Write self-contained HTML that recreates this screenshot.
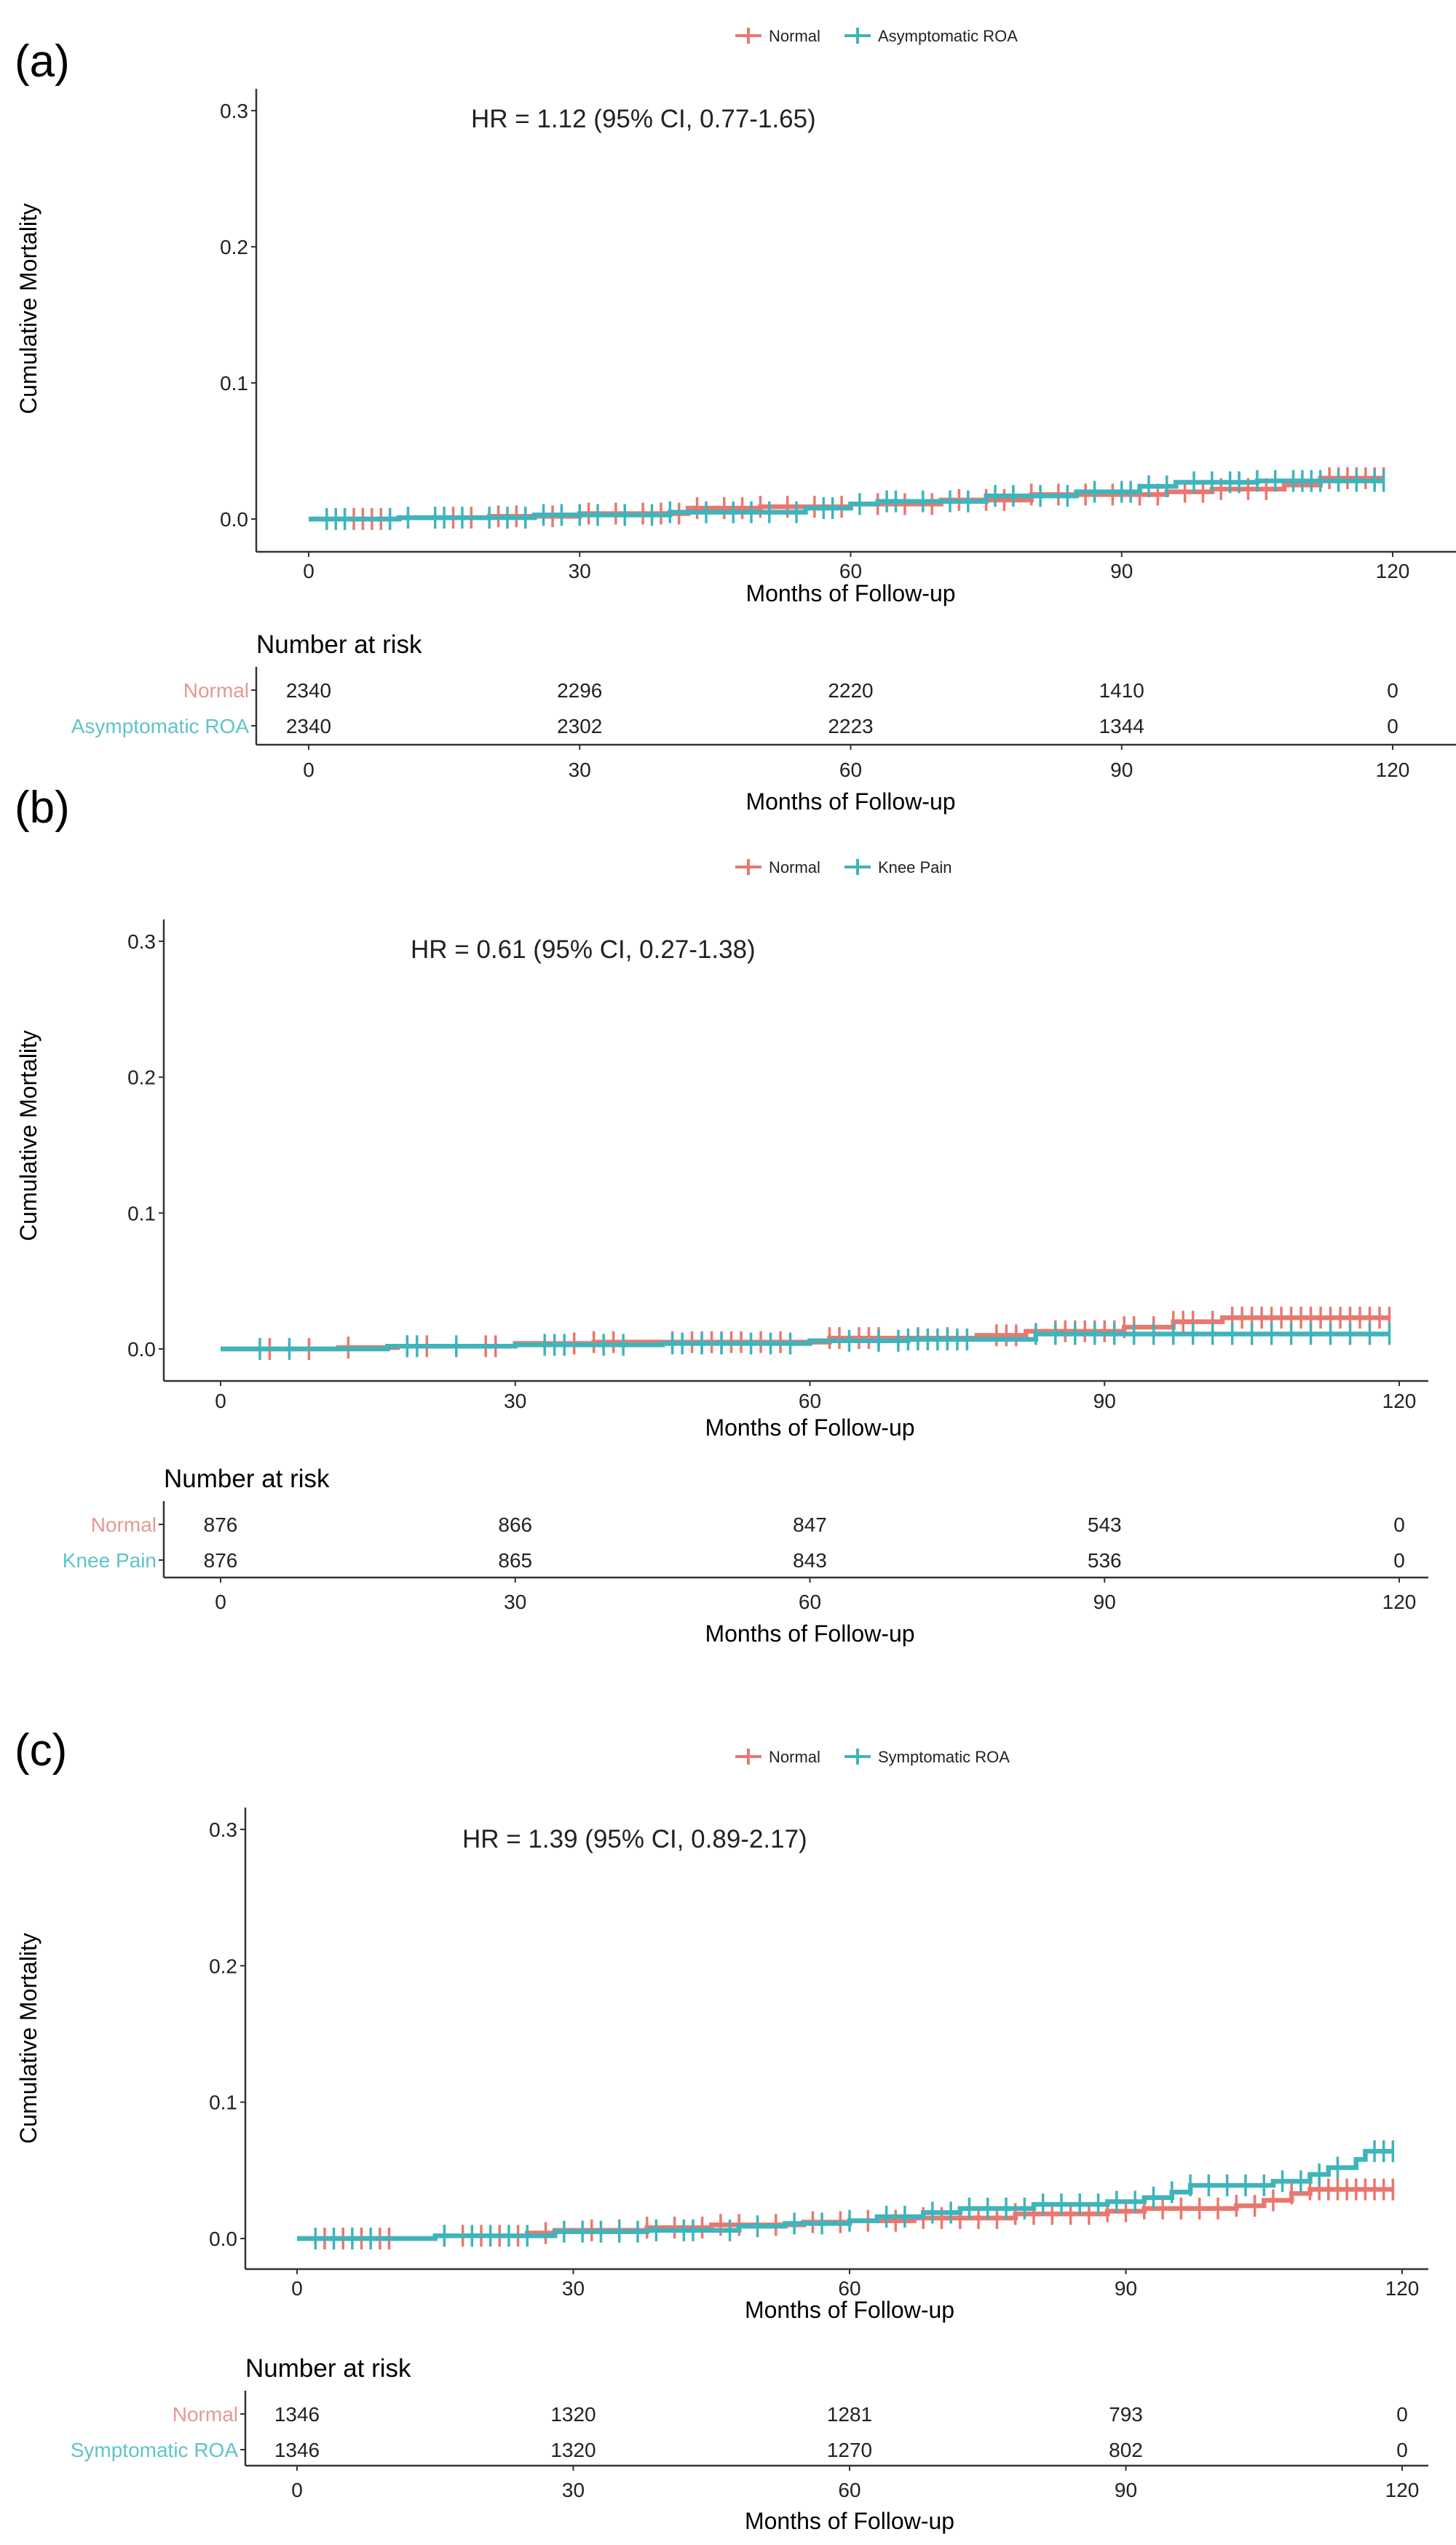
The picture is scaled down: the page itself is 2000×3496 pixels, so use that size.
<!DOCTYPE html>
<html><head><meta charset="utf-8">
<style>
html,body{margin:0;padding:0;background:#fff;}
svg{display:block;font-family:"Liberation Sans",Arial,sans-serif;}
</style></head>
<body>
<svg id="fig" width="2000" height="3496" viewBox="0 0 2000 3496" xmlns="http://www.w3.org/2000/svg"></svg>
<script>
// ---------- DATA ----------
const xTicks = [0, 30, 60, 90, 120];
const yTicks = [0.0, 0.1, 0.2, 0.3];
const yTickLabels = ["0.0", "0.1", "0.2", "0.3"];

const panelLabels = ["(a)", "(b)", "(c)"];
const hrTexts = ["HR = 1.12 (95% CI, 0.77-1.65)", "HR = 0.61 (95% CI, 0.27-1.38)", "HR = 1.39 (95% CI, 0.89-2.17)"];
const groupNames = [["Normal", "Asymptomatic ROA"], ["Normal", "Knee Pain"], ["Normal", "Symptomatic ROA"]];

// risk tables
const riskA_normal = [2340, 2296, 2220, 1410, 0];
const riskA_group = [2340, 2302, 2223, 1344, 0];
const riskB_normal = [876, 866, 847, 543, 0];
const riskB_group = [876, 865, 843, 536, 0];
const riskC_normal = [1346, 1320, 1281, 793, 0];
const riskC_group = [1346, 1320, 1270, 802, 0];

// step curves: times and cumulative values
const aNormT = [0, 10, 20, 30, 42, 50, 60, 70, 80, 95, 100, 108, 112, 119];
const aNormV = [0, 0.001, 0.002, 0.004, 0.008, 0.009, 0.011, 0.014, 0.018, 0.020, 0.022, 0.025, 0.030, 0.030];
const aGrpT = [0, 10, 25, 40, 55, 60, 63, 75, 85, 92, 96, 105, 119];
const aGrpV = [0, 0.001, 0.003, 0.005, 0.008, 0.011, 0.013, 0.017, 0.020, 0.024, 0.027, 0.028, 0.028];
const bNormT = [0, 12, 18, 30, 38, 62, 77, 82, 92, 97, 102, 119];
const bNormV = [0, 0.001, 0.002, 0.004, 0.005, 0.008, 0.010, 0.013, 0.016, 0.020, 0.023, 0.023];
const bGrpT = [0, 17, 30, 45, 60, 70, 83, 119];
const bGrpV = [0, 0.002, 0.003, 0.004, 0.006, 0.007, 0.011, 0.011];
const cNormT = [0, 15, 25, 28, 38, 45, 55, 60, 67, 78, 88, 92, 102, 105, 108, 110, 119];
const cNormV = [0, 0.002, 0.004, 0.006, 0.008, 0.010, 0.012, 0.013, 0.015, 0.018, 0.020, 0.022, 0.024, 0.028, 0.033, 0.036, 0.036];
const cGrpT = [0, 15, 28, 38, 48, 53, 60, 63, 68, 72, 80, 88, 92, 95, 97, 106, 110, 112, 115, 116, 119];
const cGrpV = [0, 0.002, 0.005, 0.006, 0.009, 0.011, 0.013, 0.016, 0.019, 0.022, 0.025, 0.027, 0.030, 0.034, 0.039, 0.042, 0.047, 0.052, 0.058, 0.064, 0.064];

// censoring times
const aNormC = [5,6,7,8,16,18,21,23,27,31,34,37,39,41,43,46,48,50,53,56,59,63,66,69,72,75,77,80,83,86,89,92,94,97,99,101,104,106,113,114,115,116,117,118,119];
const aGrpC = [2,3,4,9,11,14,15,17,20,22,24,26,28,30,32,35,38,40,44,47,49,51,54,57,58,61,64,65,68,71,73,76,78,81,84,87,90,91,93,95,98,100,102,103,105,107,109,110,111,112,114,116,118,119];
const bNormC = [5,9,13,19,21,27,28,36,38,40,46,48,49,50,51,52,53,55,57,62,63,65,66,67,71,74,79,80,81,85,86,87,88,89,90,91,92,93,95,97,98,99,101,103,104,105,106,107,108,109,110,111,112,113,114,115,116,117,118,119];
const bGrpC = [4,7,19,20,24,33,34,35,39,41,46,47,49,51,54,56,58,64,67,69,70,71,72,73,74,75,76,83,85,87,89,91,93,95,97,99,101,103,105,107,109,111,113,115,117,119];
const cNormC = [3,5,7,9,10,16,18,20,22,24,27,32,35,38,41,44,46,48,52,56,59,62,65,68,70,72,74,76,78,80,82,84,86,88,90,92,94,96,98,100,102,104,106,108,110,111,112,113,114,115,116,117,118,119];
const cGrpC = [2,4,6,8,16,19,21,23,25,29,31,33,35,37,39,42,43,47,50,54,57,60,64,66,69,71,73,75,77,79,81,83,85,87,89,91,93,95,97,99,101,103,105,107,109,111,113,117,118,119];

// ---------- LAYOUT (pixels, not data) ----------
const panels = [
  {lab:[20,105], legY:49, legX:1010, ax:352, x0:424, x120:1913, y0:713, y03:152, xl:758, axR:2000,
   hr:[647,175], ylab:[50,424], nar:[352,885], r1:948, r2:997, rl:1023, rtick:1055, rtitle:1100,
   xtl:776, xtitle:812, norm:[aNormT,aNormV,aNormC,riskA_normal], grp:[aGrpT,aGrpV,aGrpC,riskA_group]},
  {lab:[20,1130], legY:1191, legX:1010, ax:225, x0:303, x120:1922, y0:1853, y03:1293, xl:1897, axR:1962,
   hr:[564,1316], ylab:[50,1560], nar:[225,2031], r1:2094, r2:2143, rl:2167, rtick:2198, rtitle:2243,
   xtl:1916, xtitle:1958, norm:[bNormT,bNormV,bNormC,riskB_normal], grp:[bGrpT,bGrpV,bGrpC,riskB_group]},
  {lab:[20,2425], legY:2413, legX:1010, ax:337, x0:408, x120:1926, y0:3075, y03:2513, xl:3117, axR:1962,
   hr:[635,2538], ylab:[50,2800], nar:[337,3253], r1:3316, r2:3365, rl:3387, rtick:3418, rtitle:3462,
   xtl:3135, xtitle:3170, norm:[cNormT,cNormV,cNormC,riskC_normal], grp:[cGrpT,cGrpV,cGrpC,riskC_group]}
];
const RED = "#e8786f", TEAL = "#3fb4bb", TEXT = "#222", AX = "#333";
const RED_L = "#e39a94", TEAL_L = "#5ec4c8";
const NS = "http://www.w3.org/2000/svg";
const svg = document.getElementById("fig");
function mk(tag, attrs, parent, txt){
  const e = document.createElementNS(NS, tag);
  for (const k in attrs) e.setAttribute(k, attrs[k]);
  if (txt !== undefined) e.textContent = txt;
  (parent || svg).appendChild(e);
  return e;
}

panels.forEach((p, i) => {
  const g = mk("g", {});
  
  
  const X = t => p.x0 + (p.x120 - p.x0) * t / 120;
  const Y = v => p.y0 + (p.y03 - p.y0) * v / 0.3;

  let e = mk("text", {x:p.lab[0], y:p.lab[1], "font-size":62, fill:"#000"}, g, panelLabels[i]);
  
  

  // legend
  const lg = mk("g", {}, g);
  
  
  const lx = p.legX;
  mk("line", {x1:lx, x2:lx+36, y1:p.legY, y2:p.legY, stroke:RED, "stroke-width":4}, lg);
  mk("line", {x1:lx+18, x2:lx+18, y1:p.legY-11, y2:p.legY+11, stroke:RED, "stroke-width":4}, lg);
  e = mk("text", {x:lx+46, y:p.legY+8, "font-size":22, fill:TEXT}, lg, groupNames[i][0]);
  
  
  const lx2 = lx + 150;
  mk("line", {x1:lx2, x2:lx2+36, y1:p.legY, y2:p.legY, stroke:TEAL, "stroke-width":4}, lg);
  mk("line", {x1:lx2+18, x2:lx2+18, y1:p.legY-11, y2:p.legY+11, stroke:TEAL, "stroke-width":4}, lg);
  e = mk("text", {x:lx2+46, y:p.legY+8, "font-size":22, fill:TEXT}, lg, groupNames[i][1]);
  
  

  // axes
  e = mk("line", {x1:p.ax, x2:p.ax, y1:p.y03-30, y2:p.xl, stroke:AX, "stroke-width":2.5}, g);
  
  
  e = mk("line", {x1:p.ax, x2:p.axR, y1:p.xl, y2:p.xl, stroke:AX, "stroke-width":2.5}, g);
  
  
  yTicks.forEach((v, k) => {
    mk("line", {x1:p.ax-7, x2:p.ax, y1:Y(v), y2:Y(v), stroke:AX, "stroke-width":2}, g);
    const t = mk("text", {x:p.ax-11, y:Y(v)+10, "font-size":28, fill:TEXT, "text-anchor":"end"}, g, yTickLabels[k]);
    
    
  });
  xTicks.forEach(t => {
    mk("line", {x1:X(t), x2:X(t), y1:p.xl, y2:p.xl+7, stroke:AX, "stroke-width":2}, g);
    const tx = mk("text", {x:X(t), y:p.xtl+18, "font-size":28, fill:TEXT, "text-anchor":"middle"}, g, String(t));
    
    
  });
  e = mk("text", {x:(p.x0+p.x120)/2, y:p.xtitle+14, "font-size":32, fill:"#000", "text-anchor":"middle"}, g, "Months of Follow-up");
  
  
  e = mk("text", {x:p.ylab[0], y:p.ylab[1], "font-size":32, fill:"#000", "text-anchor":"middle", transform:`rotate(-90 ${p.ylab[0]} ${p.ylab[1]})`}, g, "Cumulative Mortality");
  
  
  e = mk("text", {x:p.hr[0], y:p.hr[1], "font-size":35, fill:TEXT}, g, hrTexts[i]);
  
  

  // curves
  function curve(T, V, C, col, name){
    const cg = mk("g", {}, g);
    
    
    let d = `M${X(T[0])},${Y(V[0])}`;
    for (let k = 1; k < T.length; k++) d += ` H${X(T[k])} V${Y(V[k])}`;
    const path = mk("path", {d, fill:"none", stroke:col, "stroke-width":6.5, "stroke-linejoin":"miter"}, cg);
    
    
    C.forEach(t => {
      let v = V[0];
      for (let k = 0; k < T.length; k++) if (T[k] <= t) v = V[k];
      const m = mk("line", {x1:X(t), x2:X(t), y1:Y(v)-15, y2:Y(v)+15, stroke:col, "stroke-width":3.5}, cg);
      
      
    });
  }
  curve(p.norm[0], p.norm[1], p.norm[2], RED, 'curve-normal');
  curve(p.grp[0], p.grp[1], p.grp[2], TEAL, 'curve-group');

  // risk table
  const rg = mk("g", {}, g);
  
  
  e = mk("text", {x:p.nar[0], y:p.nar[1]+12, "font-size":35, fill:"#000"}, rg, "Number at risk");
  
  
  mk("line", {x1:p.ax, x2:p.ax, y1:p.r1-32, y2:p.rl, stroke:AX, "stroke-width":2.5}, rg);
  mk("line", {x1:p.ax, x2:p.axR, y1:p.rl, y2:p.rl, stroke:AX, "stroke-width":2.5}, rg);
  [[p.r1, RED_L, groupNames[i][0], p.norm[3]], [p.r2, TEAL_L, groupNames[i][1], p.grp[3]]].forEach(([ry, col, nm, vals]) => {
    mk("line", {x1:p.ax-7, x2:p.ax, y1:ry, y2:ry, stroke:AX, "stroke-width":2}, rg);
    const l = mk("text", {x:p.ax-10, y:ry+10, "font-size":28, fill:col, "text-anchor":"end"}, rg, nm);
    
    
    vals.forEach((n, k) => {
      const c = mk("text", {x:X(xTicks[k]), y:ry+10, "font-size":28, fill:TEXT, "text-anchor":"middle"}, rg, String(n));
      
      
    });
  });
  xTicks.forEach(t => {
    mk("line", {x1:X(t), x2:X(t), y1:p.rl, y2:p.rl+7, stroke:AX, "stroke-width":2}, rg);
    const tx = mk("text", {x:X(t), y:p.rtick+12, "font-size":28, fill:TEXT, "text-anchor":"middle"}, rg, String(t));
    
    
  });
  e = mk("text", {x:(p.x0+p.x120)/2, y:p.rtitle+12, "font-size":32, fill:"#000", "text-anchor":"middle"}, rg, "Months of Follow-up");
  
  
});
</script>
</body></html>
